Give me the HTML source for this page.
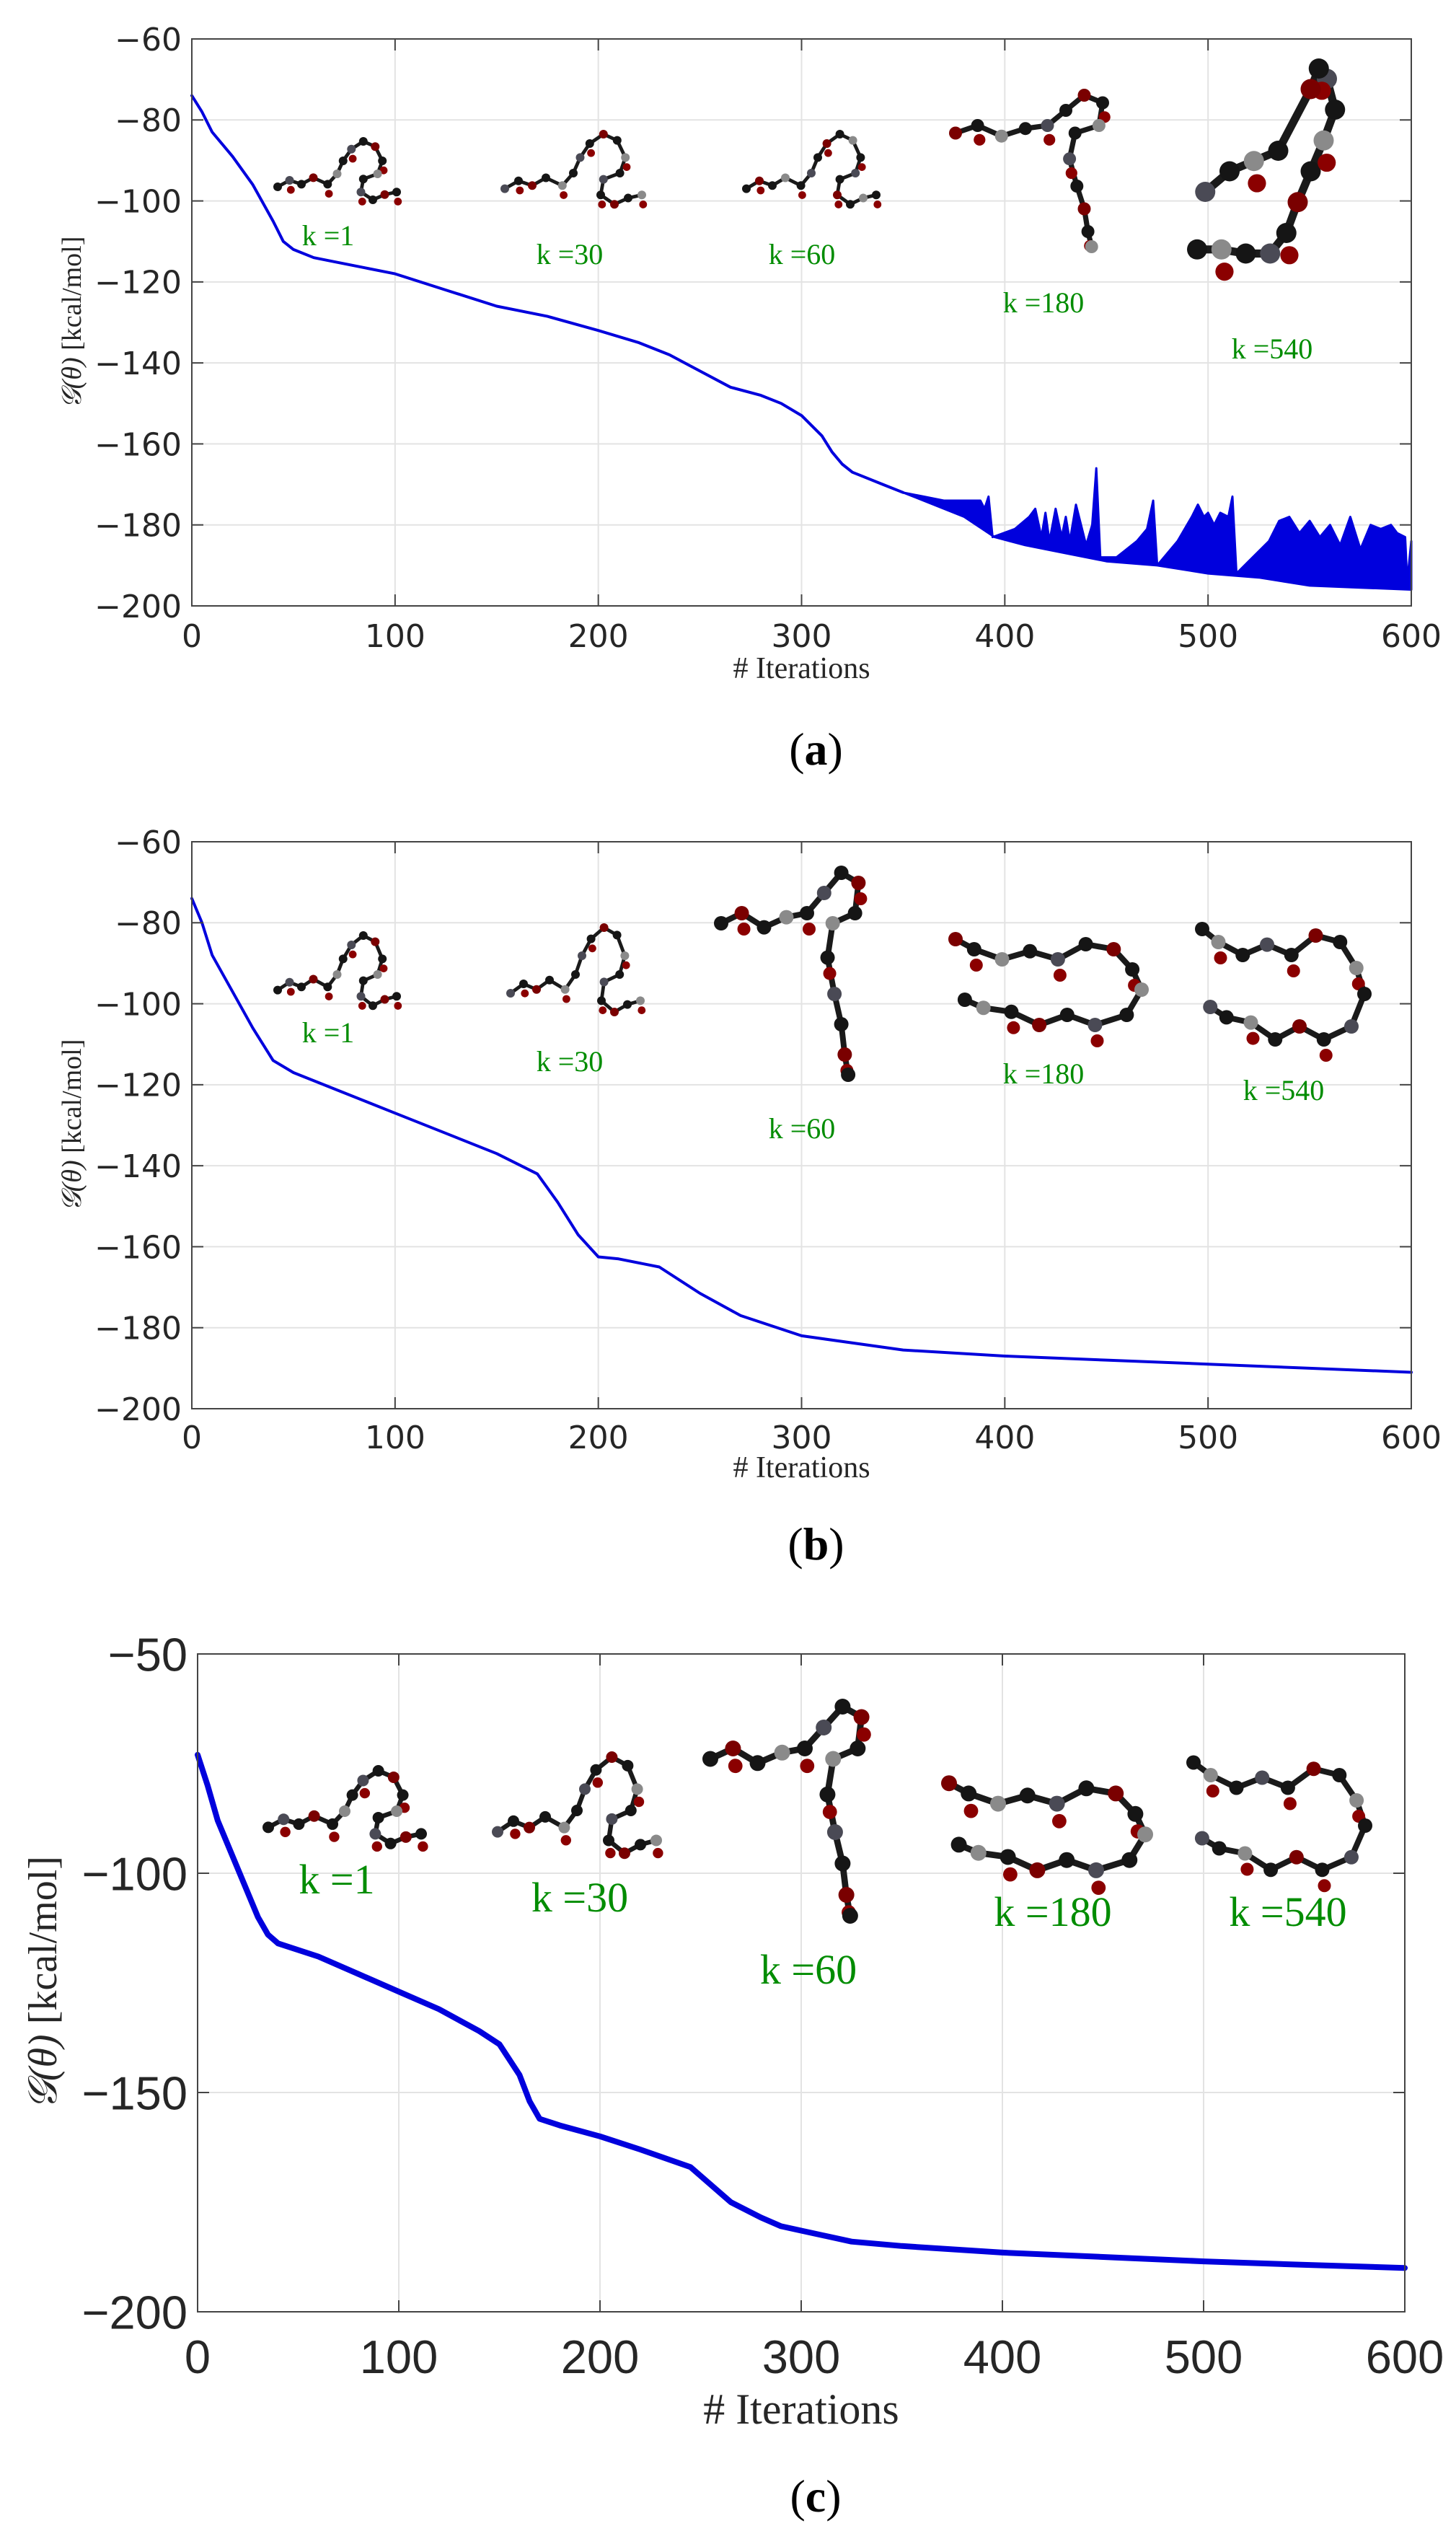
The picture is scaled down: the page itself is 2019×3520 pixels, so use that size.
<!DOCTYPE html>
<html><head><meta charset="utf-8"><style>
html,body{margin:0;padding:0;background:#fff;}
svg{display:block;}
</style></head><body>
<svg id="fig" width="2019" height="3520" viewBox="0 0 2019 3520" xmlns="http://www.w3.org/2000/svg"></svg>
<script>
// ---------- DATA ----------
const xTicks = [0,100,200,300,400,500,600];
const yTicksAB = [-60,-80,-100,-120,-140,-160,-180,-200];
const yTicksC = [-50,-100,-150,-200];
const kLabels = ["k =1","k =30","k =60","k =180","k =540"];

// panel a
const aIter = [0,5,10,20,30,40,45,50,60,70,85,100,125,150,175,200,220,235,250,265,280,290,300,310,315,320,325,330,340,350];
const aVal  = [-74,-78,-83,-89,-96,-105,-110,-112,-114,-115,-116.5,-118,-122,-126,-128.5,-132,-135,-138,-142,-146,-148,-150,-153,-158,-162,-165,-167,-168,-170,-172];
const aLowIter = [350,365,380,395,410,430,450,475,500,525,550,575,600];
const aLowVal  = [-172,-175,-178,-183,-185,-187,-189,-190,-192,-193,-195,-195.5,-196];
const aUpIter = [350,360,370,380,388,390,392,394,405,412,415,418,420,422,425,428,430,432,435,440,443,445,447,455,465,470,473,475,485,492,495,498,500,503,506,510,512,514,520,530,535,540,545,550,555,560,565,570,575,580,585,590,593,597,598,600];
const aUpVal  = [-172,-173,-174,-174,-174,-176,-173,-183,-181,-178,-176,-183,-177,-184,-176,-183,-178,-184,-175,-185,-180,-166,-188,-188,-184,-181,-174,-190,-184,-178,-175,-178,-177,-180,-177,-178,-173,-192,-189,-184,-179,-178,-182,-179,-183,-180,-185,-178,-186,-180,-181,-180,-182,-183,-194,-184];
// panel b
const bIter = [0,5,10,20,30,40,50,75,100,125,150,170,180,190,200,210,230,250,270,300,350,400,450,500,550,600];
const bVal  = [-74,-80,-88,-97,-106,-114,-117,-122,-127,-132,-137,-142,-149,-157,-162.5,-163,-165,-171.5,-177,-182,-185.5,-187,-188,-189,-190,-191];
// panel c
const cIter = [0,5,10,20,30,35,40,60,80,100,120,140,150,160,165,170,180,200,220,245,265,280,290,300,325,350,400,450,500,550,600];
const cVal  = [-73,-80,-88,-99,-110,-114,-116,-119,-123,-127,-131,-136,-139,-146,-152,-156,-157.5,-160,-163,-167,-175,-178.5,-180.5,-181.5,-184,-185,-186.5,-187.5,-188.5,-189.3,-190];

// ---------- helpers ----------
const NS="http://www.w3.org/2000/svg";
const svg=document.getElementById('fig');
function mk(tag,attrs,parent){const e=document.createElementNS(NS,tag);for(const k in attrs)e.setAttribute(k,attrs[k]);(parent||svg).appendChild(e);return e;}

function panel(cfg){
  const g=mk('g',{});
  
  
  const L=cfg.L,R=cfg.R,T=cfg.T,B=cfg.B;
  const xs=v=>L+(v-0)/(600-0)*(R-L);
  const ys=v=>T+(cfg.ymax-v)/(cfg.ymax-cfg.ymin)*(B-T);
  xTicks.forEach(t=>{const l=mk('line',{x1:xs(t),x2:xs(t),y1:T,y2:B,stroke:'#e3e3e3','stroke-width':2},g);
    });
  cfg.yTicks.forEach(t=>{const l=mk('line',{x1:L,x2:R,y1:ys(t),y2:ys(t),stroke:'#e3e3e3','stroke-width':2},g);
    });
  cfg.mols.forEach((m,i)=>drawMol(g,m,i));
  cfg.kpos.forEach((p,i)=>{const t=mk('text',{x:p[0],y:p[1],'font-family':'"Liberation Serif",serif','font-size':cfg.kfs,fill:'#008c00','text-anchor':'middle'},g);
    t.textContent=kLabels[i];});
  const pts=cfg.iter.map((v,i)=>xs(v).toFixed(1)+','+ys(cfg.val[i]).toFixed(1)).join(' ');
  const pl=mk('polyline',{points:pts,fill:'none',stroke:'#0000dd','stroke-width':cfg.lw,'stroke-linejoin':'round','stroke-linecap':'round'},g);
  
  if(cfg.upIter){
    const up=cfg.upIter.map((v,i)=>xs(v).toFixed(1)+','+ys(cfg.upVal[i]).toFixed(1));
    const lo=cfg.lowIter.map((v,i)=>xs(v).toFixed(1)+','+ys(cfg.lowVal[i]).toFixed(1)).reverse();
    const pg=mk('polygon',{points:up.concat(lo).join(' '),fill:'#0000dd',stroke:'#0000dd','stroke-width':3,'stroke-linejoin':'round'},g);
    
  }
  const bx=mk('rect',{x:L,y:T,width:R-L,height:B-T,fill:'none',stroke:'#444','stroke-width':2},g);
  
  xTicks.forEach(t=>{mk('line',{x1:xs(t),x2:xs(t),y1:B,y2:B-16,stroke:'#444','stroke-width':2},g);mk('line',{x1:xs(t),x2:xs(t),y1:T,y2:T+16,stroke:'#444','stroke-width':2},g);
    const tx=mk('text',{x:xs(t),y:cfg.xlabY,'font-family':cfg.tf,'font-size':cfg.tfs,fill:'#262626','text-anchor':'middle'},g);
    tx.textContent=t;});
  cfg.yTicks.forEach(t=>{mk('line',{x1:L,x2:L+16,y1:ys(t),y2:ys(t),stroke:'#444','stroke-width':2},g);mk('line',{x1:R,x2:R-16,y1:ys(t),y2:ys(t),stroke:'#444','stroke-width':2},g);
    const tx=mk('text',{x:L-14,y:ys(t)+cfg.tfs*0.36,'font-family':cfg.tf,'font-size':cfg.tfs,fill:'#262626','text-anchor':'end'},g);
    tx.textContent=String(t).replace('-','\u2212');});
  const xt=mk('text',{x:(L+R)/2,y:cfg.xtY,'font-family':'"Liberation Serif",serif','font-size':cfg.xtfs,fill:'#262626','text-anchor':'middle'},g);
  xt.textContent='# Iterations';
  const yt=mk('text',{x:0,y:0,transform:`translate(${cfg.ytX},${(T+B)/2}) rotate(-90)`,'font-family':'"Liberation Serif",serif','font-size':cfg.ytfs,fill:'#262626','text-anchor':'middle'},g);
  yt.innerHTML='<tspan font-style="italic">𝒢(θ)</tspan>  [kcal/mol]';
  
  const cap=mk('text',{x:(L+R)/2+20,y:cfg.capY,'font-family':'"Liberation Serif",serif','font-size':64,fill:'#000','text-anchor':'middle'},g);
  cap.innerHTML='(<tspan font-weight="bold">'+cfg.cap+'</tspan>)';
  
}

const TPL={
 loop:[[0,.7],[.1,.6],[.2,.66],[.3,.56],[.42,.66],[.5,.5],[.55,.3],[.62,.12],[.72,0],[.82,.08],[.88,.3],[.84,.5],[.72,.58],[.7,.78],[.8,.9],[.9,.82],[1,.78]],
 tee:[[0,.25],[.12,.2],[.25,.27],[.38,.22],[.5,.2],[.6,.1],[.7,0],[.8,.05],[.78,.2],[.65,.25],[.62,.42],[.66,.6],[.7,.75],[.72,.9],[.74,1]],
 ring:[[0,.1],[.1,.2],[.25,.3],[.4,.22],[.55,.3],[.7,.15],[.85,.2],[.95,.4],[1,.6],[.92,.85],[.75,.95],[.6,.85],[.45,.95],[.3,.82],[.15,.78],[.05,.7]],
 big:[[0,.88],[.15,.88],[.3,.9],[.45,.9],[.55,.8],[.62,.65],[.7,.5],[.78,.35],[.85,.2],[.8,.05],[.75,0],[.7,.1],[.5,.4],[.35,.45],[.2,.5],[.05,.6]]
};
const COLS=['#151515','#4a4a55','#151515','#7a0000','#151515','#8a8a8a'];
function drawMol(g,m,idx){
  const mg=mk('g',{},g);
  
  const p=TPL[m.t].map(q=>[m.x+q[0]*m.w,m.y+q[1]*m.h]);
  mk('polyline',{points:p.map(q=>q.join(',')).join(' '),fill:'none',stroke:'#1a1a1a','stroke-width':m.r*0.8},mg);
  p.forEach((q,i)=>{
    mk('circle',{cx:q[0],cy:q[1],r:m.r,fill:COLS[(i+idx)%COLS.length]},mg);
    if(i%3===1){mk('circle',{cx:q[0]+m.r*0.3,cy:q[1]+m.r*2.2,r:m.r*0.9,fill:'#8b0000'},mg);}
  });
}

panel({name:'panel-a',L:266,R:1957,T:54,B:840,ymax:-60,ymin:-200,yTicks:yTicksAB,iter:aIter,val:aVal,
 upIter:aUpIter,upVal:aUpVal,lowIter:aLowIter,lowVal:aLowVal,lw:4,
 tf:'"DejaVu Sans",sans-serif',tfs:44,xlabY:897,xtY:940,xtfs:42,ytX:112,ytfs:38,capY:1060,cap:'a',
 kfs:40,kpos:[[455,340],[790,366],[1112,366],[1447,433],[1764,497]],
 mols:[{t:'loop',x:385,y:196,w:165,h:90,r:6},{t:'loop',x:700,y:186,w:190,h:108,r:6},{t:'loop',x:1035,y:186,w:180,h:108,r:6},
       {t:'tee',x:1325,y:132,w:255,h:210,r:9},{t:'big',x:1660,y:95,w:225,h:285,r:14}]});
panel({name:'panel-b',L:266,R:1957,T:1167,B:1953,ymax:-60,ymin:-200,yTicks:yTicksAB,iter:bIter,val:bVal,lw:4,
 tf:'"DejaVu Sans",sans-serif',tfs:44,xlabY:2008,xtY:2048,xtfs:42,ytX:112,ytfs:38,capY:2162,cap:'b',
 kfs:40,kpos:[[455,1445],[790,1485],[1112,1578],[1447,1502],[1780,1525]],
 mols:[{t:'loop',x:385,y:1297,w:165,h:108,r:6},{t:'loop',x:708,y:1286,w:180,h:130,r:6},{t:'tee',x:1000,y:1210,w:238,h:280,r:10},
       {t:'ring',x:1325,y:1288,w:258,h:140,r:10},{t:'ring',x:1667,y:1270,w:225,h:180,r:10}]});
panel({name:'panel-c',L:274,R:1948,T:2293,B:3205,ymax:-50,ymin:-200,yTicks:yTicksC,iter:cIter,val:cVal,lw:8,
 tf:'"Liberation Sans",sans-serif',tfs:65,xlabY:3290,xtY:3360,xtfs:60,ytX:78,ytfs:56,capY:3482,cap:'c',
 kfs:58,kpos:[[467,2625],[804,2650],[1121,2750],[1460,2670],[1786,2670]],
 mols:[{t:'loop',x:372,y:2455,w:212,h:112,r:8},{t:'loop',x:690,y:2436,w:220,h:148,r:8},{t:'tee',x:985,y:2366,w:262,h:290,r:11},
       {t:'ring',x:1316,y:2458,w:272,h:142,r:11},{t:'ring',x:1655,y:2426,w:238,h:175,r:10}]});
</script>
</body></html>
